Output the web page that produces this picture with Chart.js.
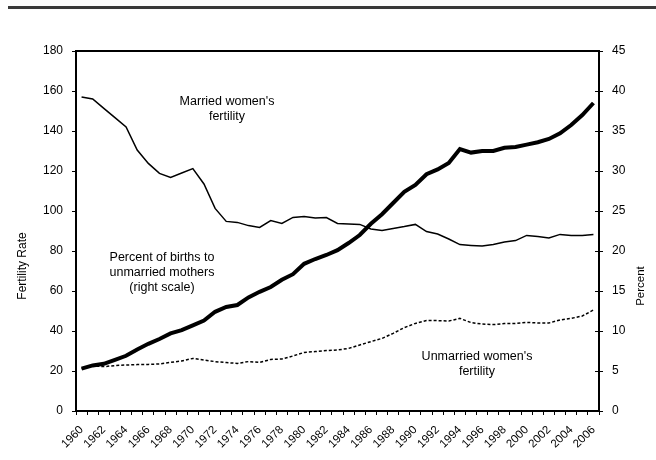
<!DOCTYPE html>
<html>
<head>
<meta charset="utf-8">
<script src="https://cdn.jsdelivr.net/npm/chart.js@4"></script>
<style>
body { margin: 0; background: #fff; }
#wrap { position: relative; width: 656px; height: 460px; }
</style>
</head>
<body>
<div id="wrap"><canvas id="chart" width="656" height="460"></canvas></div>
<script>
const years = ["1960","1961","1962","1963","1964","1965","1966","1967","1968","1969",
  "1970","1971","1972","1973","1974","1975","1976","1977","1978","1979",
  "1980","1981","1982","1983","1984","1985","1986","1987","1988","1989",
  "1990","1991","1992","1993","1994","1995","1996","1997","1998","1999",
  "2000","2001","2002","2003","2004","2005","2006"];

// births per 1,000 married women (left scale)
const married = [157,156,151.3,146.7,142,130.5,123.8,118.8,116.8,119,121.2,
  113.5,101.3,94.8,94.3,92.7,91.8,95.2,93.8,96.8,97.2,
  96.5,96.7,93.8,93.5,93.3,91,90.2,91.3,92.2,93.3,
  89.7,88.5,86,83.2,82.8,82.5,83.2,84.5,85.2,87.8,
  87.2,86.5,88.3,87.7,87.7,88.2];

// births per 1,000 unmarried women (left scale)
const unmarried = [21.3,22.5,22.2,22.7,23,23.2,23.3,23.5,24.3,25,26.3,
  25.5,24.7,24.2,23.8,24.7,24.3,25.8,26,27.5,29.3,
  29.7,30.2,30.5,31.3,33,34.7,36.3,38.8,41.7,43.8,
  45.2,45.2,45,46.3,44.2,43.5,43.2,43.7,43.8,44.3,
  44,44,45.5,46.3,47.5,50.5];

// percent of births to unmarried mothers (right scale)
const pctUnmarried = [5.3,5.7,5.9,6.4,6.9,7.7,8.4,9.0,9.7,10.1,10.7,
  11.3,12.4,13.0,13.25,14.2,14.9,15.5,16.4,17.1,18.4,
  19.0,19.5,20.1,21.0,22.0,23.4,24.6,26.0,27.4,28.25,
  29.6,30.2,31.0,32.75,32.3,32.5,32.5,32.9,33.0,33.3,
  33.6,34.0,34.7,35.75,37.0,38.5];

const labelNotes = [
  { lines: ["Married women's", "fertility"], x: 227, y: 102 },
  { lines: ["Percent of births to", "unmarried mothers", "(right scale)"], x: 162, y: 258 },
  { lines: ["Unmarried women's", "fertility"], x: 477, y: 357 }
];

const FONT = "Arial, 'Liberation Sans', sans-serif";

const decorations = {
  id: 'decorations',
  afterDraw(chart) {
    const ctx = chart.ctx;
    const area = chart.chartArea;
    ctx.save();
    // rule across the top of the figure
    ctx.fillStyle = '#3a3a3a';
    ctx.fillRect(8, 6, 648, 3);
    // top border of the plot
    ctx.strokeStyle = '#000';
    ctx.lineWidth = 2;
    ctx.beginPath();
    ctx.moveTo(area.left - 1, area.top);
    ctx.lineTo(area.right + 1, area.top);
    ctx.stroke();
    // right-axis ticks cross the axis line
    const y1 = chart.scales.y1;
    ctx.lineWidth = 1;
    y1.ticks.forEach((t) => {
      const py = Math.round(y1.getPixelForValue(t.value)) + 0.5;
      ctx.beginPath();
      ctx.moveTo(area.right - 4, py);
      ctx.lineTo(area.right, py);
      ctx.stroke();
    });
    // annotations
    ctx.fillStyle = '#000';
    ctx.font = '12.5px ' + FONT;
    ctx.textAlign = 'center';
    ctx.textBaseline = 'middle';
    labelNotes.forEach((n) => {
      n.lines.forEach((l, i) => ctx.fillText(l, n.x, n.y + i * 15));
    });
    // axis titles
    ctx.font = '12px ' + FONT;
    ctx.save();
    ctx.translate(23, 266);
    ctx.rotate(-Math.PI / 2);
    ctx.fillText('Fertility Rate', 0, 0);
    ctx.restore();
    ctx.font = '11.5px ' + FONT;
    ctx.save();
    ctx.translate(641, 286);
    ctx.rotate(-Math.PI / 2);
    ctx.fillText('Percent', 0, 0);
    ctx.restore();
    ctx.restore();
  }
};

new Chart(document.getElementById('chart'), {
  type: 'line',
  data: {
    labels: years,
    datasets: [
      { label: 'Married', data: married, yAxisID: 'y', borderColor: '#000', borderWidth: 1.5 },
      { label: 'Percent', data: pctUnmarried, yAxisID: 'y1', borderColor: '#000', borderWidth: 4 },
      { label: 'Unmarried', data: unmarried, yAxisID: 'y', borderColor: '#000', borderWidth: 1.5, borderDash: [3, 2] }
    ]
  },
  options: {
    responsive: false,
    animation: false,
    layout: { padding: { top: 51, left: 0, right: 0, bottom: 0 } },
    elements: { point: { radius: 0 }, line: { tension: 0 } },
    plugins: { legend: { display: false }, tooltip: { enabled: false } },
    scales: {
      x: {
        offset: true,
        grid: { offset: true, drawOnChartArea: false, tickLength: 4, tickColor: '#000' },
        border: { color: '#000', width: 2 },
        ticks: {
          autoSkip: false, maxRotation: 45, minRotation: 45, padding: 8,
          color: '#000', font: { family: FONT, size: 11.5 },
          callback: (v, i) => (i % 2 === 0 ? years[i] : '')
        },
        afterFit: (s) => { s.height = 49; }
      },
      y: {
        position: 'left', min: 0, max: 180,
        grid: { drawOnChartArea: false, tickLength: 4, tickColor: '#000' },
        border: { color: '#000', width: 2 },
        ticks: { stepSize: 20, padding: 9, color: '#000', font: { family: FONT, size: 12 } },
        afterFit: (s) => { s.width = 76; }
      },
      y1: {
        position: 'right', min: 0, max: 45,
        grid: { drawOnChartArea: false, tickLength: 4, tickColor: '#000' },
        border: { color: '#000', width: 2 },
        ticks: { stepSize: 5, padding: 9, color: '#000', font: { family: FONT, size: 12 } },
        afterFit: (s) => { s.width = 57; }
      }
    }
  },
  plugins: [decorations]
});
</script>
</body>
</html>
